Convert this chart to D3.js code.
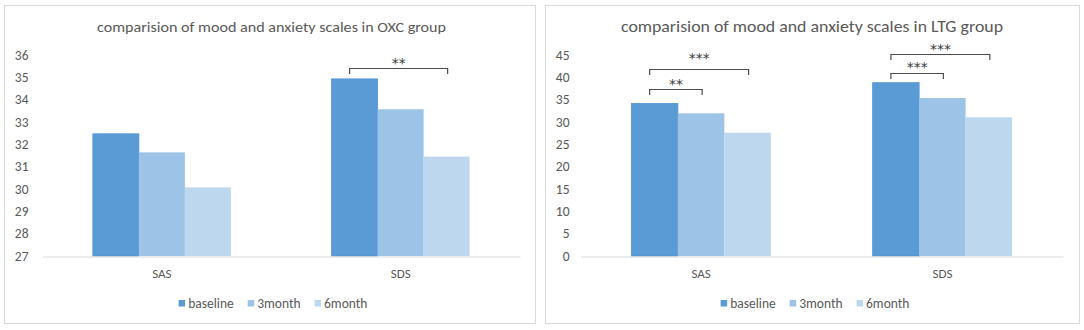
<!DOCTYPE html>
<html>
<head>
<meta charset="utf-8">
<script src="https://cdn.jsdelivr.net/npm/d3@7"></script>
<style>
  body { margin: 0; background: #fff; }
  svg text { font-family: Carlito, Lato, "Open Sans", sans-serif; fill: #595959; }
</style>
</head>
<body>
<svg id="chart" width="1084" height="330"></svg>
<script>
// categories and series
var categories = ["SAS", "SDS"];
var seriesNames = ["baseline", "3month", "6month"];
var seriesColours = ["#5b9bd5", "#9dc3e6", "#bdd7ee"];

// OXC group values
var oxcBaseline = [32.47, 34.93];
var oxc3month = [31.64, 33.57];
var oxc6month = [30.07, 31.45];
var oxcTicks = [27, 28, 29, 30, 31, 32, 33, 34, 35, 36];

// LTG group values
var ltgBaseline = [34.15, 38.8];
var ltg3month = [31.95, 35.37];
var ltg6month = [27.6, 31.05];
var ltgTicks = [0, 5, 10, 15, 20, 25, 30, 35, 40, 45];

// significance brackets: category, from series, to series, bracket level, star level
var oxcSig = [
  {cat: "SDS", from: 0, to: 2, level: 35.43, star: 35.78, text: "**"}
];
var ltgSig = [
  {cat: "SAS", from: 0, to: 1, level: 37.4, star: 39.2, text: "**"},
  {cat: "SAS", from: 0, to: 2, level: 41.9, star: 45.0, text: "***"},
  {cat: "SDS", from: 0, to: 1, level: 41.0, star: 42.9, text: "***"},
  {cat: "SDS", from: 0, to: 2, level: 45.15, star: 47.0, text: "***"}
];

var svg = d3.select("#chart");

function drawPanel(opt) {
  var g = svg.append("g");

  // outer frame
  g.append("rect")
    .attr("x", opt.box[0] + 0.5).attr("y", 5.5)
    .attr("width", opt.box[1] - opt.box[0]).attr("height", 318)
    .attr("fill", "#fff").attr("stroke", "#d9d9d9").attr("stroke-width", 1);

  // title
  g.append("text")
    .attr("x", opt.titleX).attr("y", 32)
    .attr("text-anchor", "middle")
    .attr("font-size", opt.titleSize)
    .attr("textLength", opt.titleWidth)
    .attr("lengthAdjust", "spacingAndGlyphs")
    .text(opt.title);

  var x = d3.scaleBand()
    .domain(categories)
    .range(opt.xRange)
    .paddingInner(0.422)
    .paddingOuter(0.211);

  var xSub = d3.scaleBand()
    .domain(d3.range(seriesNames.length))
    .range([0, x.bandwidth()]);

  var y = d3.scaleLinear()
    .domain(d3.extent(opt.ticks))
    .range([256, 55]);

  // y tick labels
  var yAxis = d3.axisLeft(y).tickValues(opt.ticks).tickSize(0).tickPadding(0);
  var ya = g.append("g")
    .attr("transform", "translate(" + opt.labelRight + ",0)")
    .call(yAxis);
  ya.select(".domain").remove();
  ya.selectAll("text")
    .attr("font-size", 13.5)
    .style("font-family", "Carlito, Lato, sans-serif")
    .style("fill", "#595959");

  // bars
  var rows = categories.map(function(c, i) {
    return opt.series.map(function(s, j) { return {cat: c, s: j, v: s[i]}; });
  });
  g.selectAll(".grp")
    .data(rows)
    .enter().append("g")
    .attr("transform", function(d) { return "translate(" + x(d[0].cat) + ",0)"; })
    .selectAll("rect")
    .data(function(d) { return d; })
    .enter().append("rect")
    .attr("x", function(d) { return xSub(d.s); })
    .attr("width", xSub.bandwidth())
    .attr("y", function(d) { return y(d.v); })
    .attr("height", function(d) { return y(opt.ticks[0]) - y(d.v); })
    .attr("fill", function(d) { return seriesColours[d.s]; })
    .attr("stroke", function(d) { return d.s === 0 ? "#5293d3" : "none"; })
    .attr("stroke-width", 0.8);

  // x axis
  var xAxis = d3.axisBottom(d3.scaleBand().domain(categories).range(opt.xRange))
    .tickSize(0).tickSizeOuter(0).tickPadding(12);
  var xa = g.append("g")
    .attr("transform", "translate(0," + (y(opt.ticks[0]) + 0.5) + ")")
    .call(xAxis);
  xa.select(".domain").attr("stroke", "#d9d9d9").attr("stroke-width", 1.2);
  xa.selectAll("text")
    .attr("font-size", 13)
    .style("font-family", "Carlito, Lato, sans-serif")
    .style("fill", "#595959");

  // significance brackets
  opt.sig.forEach(function(s) {
    var x1 = x(s.cat) + xSub(s.from) + xSub.bandwidth() / 2 - 5;
    var x2 = x(s.cat) + xSub(s.to) + xSub.bandwidth() / 2 + 1;
    var yy = Math.round(y(s.level)) + 0.5;
    g.append("path")
      .attr("d", "M" + x1 + "," + (yy + 5.5) + "V" + yy + "H" + x2 + "V" + (yy + 5.5))
      .attr("fill", "none")
      .attr("stroke", "#4d4d4d")
      .attr("stroke-width", 1.2);
    g.append("text")
      .attr("x", (x1 + x2) / 2)
      .attr("y", y(s.star) + 8)
      .attr("text-anchor", "middle")
      .attr("font-size", 14)
      .style("font-family", "'DejaVu Sans', sans-serif")
      .style("fill", "#3a3a3a")
      .text(s.text);
  });

  // legend
  var leg = g.append("g");
  var pos = 0;
  seriesNames.forEach(function(n, i) {
    var it = leg.append("g").attr("transform", "translate(" + pos + ",0)");
    it.append("rect")
      .attr("x", 0).attr("y", -3).attr("width", 6.5).attr("height", 6.5)
      .attr("fill", seriesColours[i]);
    var t = it.append("text")
      .attr("x", 9.5).attr("y", 4.5)
      .attr("font-size", 13.5)
      .text(n);
    pos += 9.5 + t.node().getComputedTextLength() + 14;
  });
  pos -= 14;
  leg.attr("transform", "translate(" + (opt.legendCenter - pos / 2) + ",303)");
}

drawPanel({
  box: [4, 535],
  title: "comparision of mood and anxiety scales in OXC group",
  titleX: 271.5, titleSize: 15, titleWidth: 349,
  xRange: [42.5, 520],
  labelRight: 28.5,
  ticks: oxcTicks,
  series: [oxcBaseline, oxc3month, oxc6month],
  sig: oxcSig,
  legendCenter: 273
});

drawPanel({
  box: [545, 1079],
  title: "comparision of mood and anxiety scales in LTG group",
  titleX: 812, titleSize: 16.5, titleWidth: 382,
  xRange: [580.5, 1063],
  labelRight: 569.5,
  ticks: ltgTicks,
  series: [ltgBaseline, ltg3month, ltg6month],
  sig: ltgSig,
  legendCenter: 815
});
</script>
</body>
</html>
